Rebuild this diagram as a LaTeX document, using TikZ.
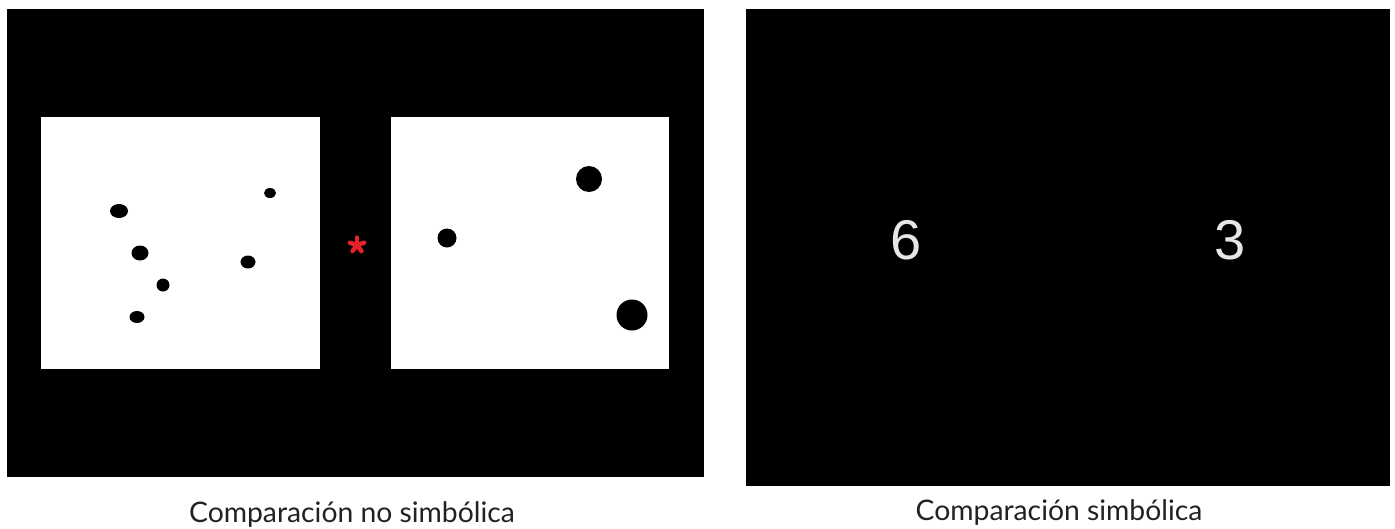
\documentclass[tikz,border=0pt]{standalone}
\usepackage{fontspec}
\setmainfont{Lato}
\newfontfamily\arialfont{Liberation Sans}
\definecolor{capgray}{HTML}{222222}
\definecolor{digitgray}{HTML}{E6E6E6}
\definecolor{starred}{HTML}{E8202A}
\begin{document}
\begin{tikzpicture}[x=1pt,y=-1pt,
  panel/.style={fill=black,draw=none},
  card/.style={fill=white,draw=none},
  dot/.style={fill=black,draw=none},
  caption/.style={text=capgray,font=\fontsize{28.3}{34}\selectfont,inner sep=0pt,anchor=base},
  digit/.style={text=digitgray,font=\arialfont\fontsize{56}{60}\selectfont,inner sep=0pt}]
\useasboundingbox (0,0) rectangle (1395,528);
\fill[white] (0,0) rectangle (1395,528);
% left panel
\path[panel] (7,9) rectangle (704,477);
\path[card] (41,117) rectangle (320,369);
\path[card] (391,117) rectangle (669,369);
% left card dots
\path[dot] (119,211) ellipse [x radius=9,y radius=7];
\path[dot] (270,193) ellipse [x radius=6,y radius=5];
\path[dot] (140,253) ellipse [x radius=8.5,y radius=7.5];
\path[dot] (248,262) ellipse [x radius=7.5,y radius=6.5];
\path[dot] (163,285) ellipse [x radius=6.5,y radius=6.5];
\path[dot] (137,317) ellipse [x radius=7.5,y radius=6];
% right card dots
\path[dot] (447,238) circle [radius=9.5];
\path[dot] (589,179) circle [radius=13];
\path[dot] (632,315) circle [radius=15.5];
% red fixation star
\foreach \a in {90,162,234,306,18}
  \draw[starred,line width=4.5pt,line cap=round] (357,245) -- ++(\a:-7.5);
% right panel
\path[panel] (746,9) rectangle (1390,486);
\node[digit] (six) at (906,240) {6};
\node[digit] (three) at (1230,240) {3};
% captions
\node[caption] (capA) at (352,522) {Comparación no simbólica};
\node[caption] (capB) at (1059,520) {Comparación simbólica};
\end{tikzpicture}
\end{document}
